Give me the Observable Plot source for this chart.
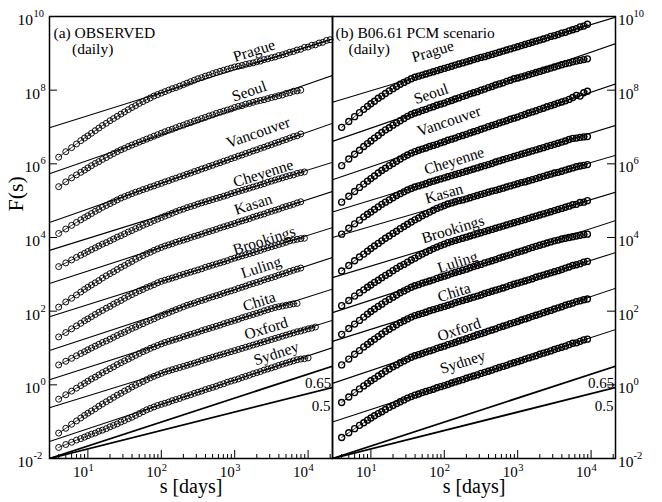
<!DOCTYPE html>
<html><head><meta charset="utf-8">
<script src="https://cdn.jsdelivr.net/npm/d3@7"></script>
<script src="https://cdn.jsdelivr.net/npm/@observablehq/plot@0.6"></script>
<style>
body{margin:0;background:#fff;}
#chart{position:relative;width:662px;height:502px;background:#fff;font-family:'Liberation Serif',serif;}
#chart svg{position:absolute;left:0;top:0;}
#chart svg text{font-family:'Liberation Serif',serif;}
</style></head><body><div id="chart"></div>
<script>
// ---- data (F values stored as log10 F) ----
const sGrid = [4,5,6,7,8,9,10,11.2,12.6,14.1,15.8,17.8,20,22.4,25.1,28.2,31.6,35.5,39.8,44.7,50.1,56.2,63.1,70.8,79.4,89.1,100,112,126,141,158,178,200,224,251,282,316,355,398,447,501,562,631,708,794,891,1000,1122,1259,1413,1585,1778,1995,2239,2512,2818,3162,3548,3981,4467,5012,5623,6310,7079,7943,8913,10000,11220,12589,14125,15849,17783,19953];
const stations = ["Prague","Seoul","Vancouver","Cheyenne","Kasan","Brookings","Luling","Chita","Oxford","Sydney"];

const obs_Prague = [6.18,6.33,6.44,6.54,6.63,6.70,6.76,6.83,6.90,6.97,7.04,7.10,7.17,7.23,7.29,7.35,7.41,7.47,7.53,7.58,7.64,7.69,7.74,7.79,7.84,7.88,7.92,7.96,8.00,8.04,8.07,8.11,8.15,8.19,8.23,8.27,8.31,8.34,8.38,8.41,8.45,8.48,8.51,8.54,8.57,8.60,8.63,8.65,8.67,8.70,8.72,8.74,8.77,8.79,8.83,8.85,8.88,8.90,8.94,8.96,8.99,9.03,9.05,9.09,9.11,9.16,9.17,9.22,9.23,9.28,9.30,9.35,9.37];
const obs_Seoul = [5.38,5.51,5.62,5.70,5.77,5.83,5.89,5.95,6.01,6.06,6.12,6.17,6.23,6.28,6.33,6.38,6.42,6.47,6.51,6.55,6.59,6.63,6.67,6.71,6.75,6.79,6.83,6.87,6.91,6.94,6.98,7.02,7.05,7.09,7.12,7.16,7.19,7.23,7.26,7.30,7.33,7.37,7.40,7.43,7.46,7.49,7.53,7.56,7.58,7.62,7.64,7.67,7.70,7.72,7.74,7.77,7.80,7.82,7.85,7.87,7.91,7.93,7.97,7.98,8.00];
const obs_Vancouver = [4.11,4.23,4.33,4.41,4.48,4.54,4.59,4.65,4.71,4.76,4.82,4.87,4.92,4.97,5.02,5.07,5.11,5.15,5.19,5.23,5.26,5.30,5.33,5.37,5.40,5.44,5.47,5.51,5.54,5.58,5.61,5.65,5.68,5.72,5.75,5.79,5.82,5.86,5.89,5.93,5.96,6.00,6.03,6.07,6.10,6.14,6.17,6.21,6.24,6.28,6.31,6.35,6.38,6.42,6.45,6.49,6.52,6.56,6.59,6.63,6.66,6.70,6.74,6.76,6.81];
const obs_Cheyenne = [3.21,3.31,3.39,3.46,3.52,3.57,3.62,3.67,3.72,3.77,3.82,3.86,3.91,3.96,4.01,4.05,4.10,4.15,4.19,4.24,4.28,4.33,4.37,4.41,4.46,4.50,4.54,4.58,4.62,4.66,4.70,4.74,4.77,4.81,4.84,4.87,4.91,4.94,4.97,5.00,5.03,5.06,5.09,5.12,5.15,5.19,5.22,5.25,5.28,5.31,5.34,5.37,5.40,5.43,5.46,5.50,5.53,5.56,5.59,5.62,5.65,5.68,5.70,5.74,5.76,5.78];
const obs_Kasan = [2.11,2.25,2.35,2.44,2.52,2.59,2.65,2.71,2.77,2.83,2.90,2.96,3.02,3.07,3.13,3.19,3.24,3.30,3.35,3.41,3.46,3.51,3.56,3.60,3.65,3.69,3.73,3.77,3.80,3.83,3.87,3.90,3.93,3.96,4.00,4.03,4.06,4.09,4.13,4.16,4.19,4.22,4.26,4.29,4.32,4.35,4.38,4.42,4.45,4.48,4.51,4.55,4.58,4.61,4.64,4.68,4.71,4.74,4.77,4.81,4.84,4.87,4.90,4.94,4.97];
const obs_Brookings = [1.30,1.42,1.52,1.60,1.67,1.74,1.79,1.85,1.91,1.97,2.02,2.08,2.13,2.19,2.24,2.29,2.35,2.40,2.45,2.50,2.55,2.59,2.64,2.68,2.72,2.77,2.81,2.84,2.87,2.90,2.93,2.97,3.00,3.03,3.06,3.09,3.12,3.15,3.19,3.22,3.25,3.28,3.31,3.34,3.37,3.41,3.44,3.47,3.50,3.53,3.56,3.59,3.62,3.65,3.69,3.72,3.75,3.78,3.81,3.84,3.87,3.91,3.93,3.95,3.97,3.98];
const obs_Luling = [0.54,0.64,0.72,0.79,0.85,0.90,0.95,1.00,1.05,1.10,1.15,1.19,1.24,1.29,1.34,1.39,1.43,1.48,1.53,1.57,1.62,1.66,1.71,1.75,1.79,1.84,1.88,1.92,1.96,2.00,2.04,2.08,2.12,2.16,2.19,2.22,2.26,2.29,2.32,2.36,2.39,2.42,2.45,2.49,2.52,2.55,2.58,2.62,2.65,2.68,2.72,2.75,2.78,2.81,2.85,2.88,2.91,2.94,2.98,3.01,3.04,3.08,3.11,3.14,3.17];
const obs_Chita = [-0.39,-0.27,-0.17,-0.09,-0.02,0.04,0.10,0.16,0.21,0.27,0.33,0.38,0.44,0.49,0.55,0.60,0.65,0.70,0.75,0.80,0.85,0.90,0.94,0.99,1.03,1.07,1.11,1.15,1.18,1.21,1.24,1.27,1.31,1.34,1.37,1.40,1.43,1.47,1.50,1.53,1.56,1.59,1.62,1.66,1.69,1.72,1.75,1.78,1.82,1.85,1.88,1.91,1.94,1.97,2.01,2.04,2.07,2.10,2.12,2.14,2.16,2.18,2.20,2.21];
const obs_Oxford = [-1.31,-1.18,-1.07,-0.98,-0.90,-0.83,-0.77,-0.71,-0.65,-0.58,-0.52,-0.46,-0.40,-0.34,-0.28,-0.23,-0.17,-0.12,-0.06,-0.01,0.04,0.09,0.14,0.19,0.23,0.27,0.31,0.35,0.38,0.41,0.44,0.47,0.50,0.53,0.56,0.59,0.62,0.66,0.69,0.72,0.75,0.78,0.81,0.84,0.87,0.90,0.93,0.96,0.99,1.02,1.05,1.08,1.11,1.14,1.17,1.20,1.23,1.26,1.29,1.32,1.35,1.38,1.41,1.44,1.46,1.49,1.52,1.54,1.57];
const obs_Sydney = [-1.70,-1.62,-1.56,-1.50,-1.46,-1.42,-1.38,-1.34,-1.31,-1.26,-1.23,-1.19,-1.14,-1.10,-1.06,-1.01,-0.97,-0.92,-0.88,-0.83,-0.78,-0.73,-0.68,-0.64,-0.60,-0.56,-0.53,-0.50,-0.47,-0.43,-0.40,-0.37,-0.33,-0.30,-0.27,-0.23,-0.20,-0.17,-0.13,-0.10,-0.07,-0.04,0.00,0.03,0.07,0.10,0.13,0.16,0.20,0.23,0.26,0.30,0.33,0.36,0.40,0.43,0.46,0.49,0.53,0.56,0.59,0.62,0.65,0.68,0.70,0.71,0.73];

const pcm_Prague = [6.99,7.15,7.28,7.39,7.48,7.56,7.63,7.70,7.78,7.84,7.91,7.98,8.04,8.10,8.16,8.21,8.26,8.31,8.35,8.38,8.41,8.44,8.47,8.50,8.53,8.56,8.59,8.62,8.65,8.68,8.71,8.74,8.77,8.80,8.83,8.86,8.89,8.91,8.94,8.97,9.00,9.03,9.06,9.09,9.12,9.15,9.18,9.21,9.24,9.27,9.30,9.33,9.36,9.39,9.42,9.46,9.48,9.51,9.55,9.57,9.61,9.64,9.67,9.72,9.74,9.79];
const pcm_Seoul = [5.95,6.13,6.26,6.37,6.47,6.55,6.62,6.70,6.77,6.85,6.92,6.98,7.05,7.11,7.17,7.23,7.29,7.34,7.38,7.41,7.45,7.48,7.52,7.55,7.59,7.62,7.65,7.69,7.72,7.76,7.79,7.83,7.86,7.90,7.93,7.96,8.00,8.03,8.07,8.10,8.14,8.17,8.20,8.24,8.27,8.31,8.33,8.36,8.39,8.42,8.45,8.48,8.51,8.54,8.57,8.60,8.63,8.66,8.69,8.72,8.74,8.77,8.79,8.81,8.83,8.85];
const pcm_Vancouver = [4.96,5.12,5.25,5.36,5.45,5.53,5.60,5.67,5.75,5.82,5.88,5.95,6.01,6.07,6.13,6.19,6.24,6.29,6.33,6.37,6.40,6.43,6.47,6.50,6.53,6.57,6.60,6.64,6.67,6.70,6.74,6.77,6.80,6.84,6.87,6.90,6.94,6.97,7.01,7.04,7.07,7.11,7.14,7.17,7.21,7.24,7.27,7.31,7.34,7.38,7.41,7.44,7.48,7.51,7.55,7.58,7.61,7.65,7.68,7.71,7.75,7.80,7.86,7.84,7.93,7.97];
const pcm_Cheyenne = [4.09,4.25,4.37,4.47,4.56,4.63,4.69,4.76,4.83,4.90,4.96,5.02,5.08,5.14,5.19,5.24,5.29,5.33,5.37,5.40,5.43,5.46,5.50,5.53,5.56,5.59,5.62,5.65,5.68,5.71,5.74,5.77,5.80,5.83,5.86,5.89,5.92,5.95,5.98,6.01,6.05,6.08,6.11,6.14,6.17,6.20,6.23,6.26,6.29,6.32,6.35,6.38,6.41,6.44,6.47,6.50,6.53,6.56,6.59,6.62,6.66,6.69,6.70,6.72,6.73,6.74];
const pcm_Kasan = [3.09,3.24,3.37,3.47,3.55,3.63,3.70,3.77,3.84,3.91,3.98,4.04,4.11,4.17,4.24,4.30,4.36,4.42,4.48,4.53,4.59,4.64,4.69,4.74,4.79,4.83,4.87,4.91,4.94,4.97,5.00,5.02,5.05,5.08,5.11,5.14,5.17,5.20,5.23,5.26,5.28,5.31,5.34,5.37,5.40,5.43,5.46,5.49,5.51,5.54,5.57,5.60,5.63,5.66,5.69,5.72,5.75,5.77,5.80,5.83,5.86,5.89,5.92,5.94,5.96,5.98];
const pcm_Brookings = [2.15,2.29,2.41,2.50,2.58,2.65,2.71,2.78,2.84,2.91,2.97,3.03,3.10,3.16,3.22,3.27,3.33,3.39,3.44,3.50,3.55,3.60,3.65,3.70,3.74,3.78,3.82,3.86,3.89,3.92,3.95,3.98,4.01,4.04,4.07,4.10,4.13,4.16,4.19,4.22,4.25,4.28,4.31,4.34,4.37,4.40,4.43,4.46,4.49,4.52,4.55,4.58,4.61,4.64,4.67,4.70,4.73,4.76,4.79,4.82,4.85,4.89,4.90,4.95,4.96,5.00];
const pcm_Luling = [1.37,1.53,1.65,1.75,1.84,1.92,1.99,2.06,2.13,2.19,2.26,2.32,2.38,2.44,2.50,2.55,2.60,2.65,2.69,2.72,2.76,2.79,2.82,2.85,2.89,2.92,2.95,2.98,3.02,3.05,3.08,3.11,3.14,3.18,3.21,3.24,3.27,3.31,3.34,3.37,3.40,3.44,3.47,3.50,3.53,3.57,3.60,3.63,3.66,3.70,3.73,3.76,3.79,3.82,3.85,3.88,3.91,3.93,3.96,3.98,4.00,4.02,4.04,4.06,4.08,4.09];
const pcm_Chita = [0.54,0.70,0.83,0.93,1.03,1.10,1.17,1.24,1.31,1.38,1.45,1.51,1.57,1.63,1.69,1.74,1.79,1.84,1.88,1.91,1.94,1.97,2.01,2.04,2.07,2.10,2.13,2.16,2.19,2.23,2.26,2.29,2.32,2.35,2.38,2.41,2.44,2.48,2.51,2.54,2.57,2.60,2.63,2.66,2.70,2.73,2.76,2.79,2.82,2.85,2.88,2.92,2.95,2.98,3.01,3.04,3.07,3.10,3.13,3.17,3.20,3.24,3.26,3.29,3.33,3.35];
const pcm_Oxford = [-0.48,-0.33,-0.21,-0.11,-0.03,0.04,0.11,0.17,0.24,0.30,0.37,0.43,0.49,0.54,0.60,0.65,0.70,0.75,0.79,0.82,0.85,0.89,0.92,0.95,0.99,1.02,1.05,1.09,1.12,1.15,1.19,1.22,1.25,1.29,1.32,1.36,1.39,1.42,1.46,1.49,1.52,1.56,1.59,1.62,1.66,1.69,1.72,1.76,1.79,1.82,1.86,1.89,1.92,1.96,1.99,2.02,2.06,2.09,2.12,2.16,2.19,2.22,2.26,2.28,2.31,2.33];
const pcm_Sydney = [-1.43,-1.30,-1.19,-1.10,-1.03,-0.96,-0.90,-0.84,-0.78,-0.73,-0.67,-0.61,-0.56,-0.51,-0.46,-0.41,-0.36,-0.32,-0.28,-0.25,-0.21,-0.18,-0.15,-0.12,-0.08,-0.05,-0.02,0.01,0.05,0.08,0.11,0.14,0.18,0.21,0.24,0.27,0.31,0.34,0.37,0.40,0.44,0.47,0.50,0.53,0.57,0.60,0.63,0.66,0.70,0.73,0.76,0.79,0.83,0.86,0.89,0.92,0.96,0.99,1.02,1.05,1.09,1.13,1.14,1.18,1.22,1.24];

// fitted straight lines: log10 F at the left (s=3) and right (s=21500) panel edges
const obsFitLo = [6.98,5.73,4.41,3.65,2.75,1.85,0.93,0.14,-0.62,-1.54];
const obsFitHi = [9.39,8.40,7.10,6.04,5.25,4.27,3.46,2.60,1.75,1.01];
const pcmFitLo = [7.67,6.61,5.57,4.69,4.00,2.91,1.96,1.18,0.04,-1.01];
const pcmFitHi = [9.98,9.26,8.17,7.04,6.23,5.23,4.46,3.59,2.62,1.50];

// station name anchors (s, log10 F)
const obsLabelS = [1841,1574,2090,2443,1782,2518,2291,2153,2685,3673];
const obsLabelLogF = [9.07,7.97,6.85,5.74,4.90,3.92,3.19,2.26,1.53,0.85];
const pcmLabelS = [69.5,66,116,136,99,131,152,136,159,178];
const pcmLabelLogF = [9.05,7.90,7.16,6.08,5.19,4.22,3.33,2.51,1.50,0.62];

// reference slopes
const hurst = [0.65, 0.5];
const hurstText = ["0.65", "0.5"];
const hurstLabelS = [13740, 15100];

const sRange = [3, 21500];
const FRange = [1e-2, 1e10];
const xMajor = [10, 100, 1000, 10000];
const yMajorExp = [-2, 0, 2, 4, 6, 8, 10];

const obsSeries = [obs_Prague,obs_Seoul,obs_Vancouver,obs_Cheyenne,obs_Kasan,obs_Brookings,obs_Luling,obs_Chita,obs_Oxford,obs_Sydney];
const pcmSeries = [pcm_Prague,pcm_Seoul,pcm_Vancouver,pcm_Cheyenne,pcm_Kasan,pcm_Brookings,pcm_Luling,pcm_Chita,pcm_Oxford,pcm_Sydney];

const FONT = "Liberation Serif";
const minorTicks = [];
for (const dec of [1, 10, 100, 1000, 10000]) for (let m = 2; m <= 9; m++) {
  const v = m * dec; if (v >= sRange[0] && v <= sRange[1]) minorTicks.push(v);
}

function panel({series, fitLo, fitHi, labelS, labelLogF, title, side}) {
  const W = 662, H = 502, mt = 16, mb = 44;
  const ml = side === "left" ? 49 : 332, mr = side === "left" ? 330 : 47;
  const pw = W - ml - mr, ph = H - mt - mb;
  const decX = Math.log10(sRange[1] / sRange[0]);
  const aspect = (ph / Math.log10(FRange[1] / FRange[0])) / (pw / decX);
  const points = [];
  series.forEach((vals, i) => vals.forEach((v, j) => points.push({st: stations[i], s: sGrid[j], F: Math.pow(10, v)})));
  const fits = stations.flatMap((st, i) => [{st, s: sRange[0], F: 10 ** fitLo[i]}, {st, s: sRange[1], F: 10 ** fitHi[i]}]);
  const refs = hurst.flatMap(h => [{h, s: sRange[0], F: FRange[0]}, {h, s: sRange[1], F: FRange[0] * (sRange[1] / sRange[0]) ** h}]);
  const labels = stations.map((st, i) => ({st, s: labelS[i], F: 10 ** labelLogF[i],
    rot: -Math.atan((fitHi[i] - fitLo[i]) / decX * aspect) * 180 / Math.PI}));
  const refLab = hurst.map((h, i) => ({t: hurstText[i], s: hurstLabelS[i], F: FRange[0] * (hurstLabelS[i] / sRange[0]) ** h}));
  const one = yMajorExp.filter(e => String(e).length === 1);
  const two = yMajorExp.filter(e => String(e).length === 2);
  const T = {fill: "black", fontFamily: FONT};
  const dotStroke = side === "left" ? 0.95 : 1.35;
  const marks = [
    Plot.line(fits, {x: "s", y: "F", z: "st", stroke: "black", strokeWidth: 1.1, clip: true}),
    Plot.line(refs, {x: "s", y: "F", z: "h", stroke: "black", strokeWidth: 1.8, clip: true}),
    Plot.line(points, {x: "s", y: "F", z: "st", stroke: "black", strokeWidth: 0.8}),
    Plot.dot(points, {x: "s", y: "F", r: 3, stroke: "black", strokeWidth: dotStroke, fill: "none"}),
    Plot.tickX(xMajor, {x: d => d, insetTop: ph - 8, stroke: "black", strokeWidth: 1}),
    Plot.tickX(minorTicks, {x: d => d, insetTop: ph - 4, stroke: "black", strokeWidth: 1}),
    side === "left"
      ? Plot.tickY(yMajorExp, {y: e => 10 ** e, insetRight: pw - 8, stroke: "black", strokeWidth: 1})
      : Plot.tickY(yMajorExp, {y: e => 10 ** e, insetLeft: pw - 8, stroke: "black", strokeWidth: 1}),
    Plot.frame({stroke: "black", strokeWidth: 1.5}),
    // x tick labels
    Plot.text(xMajor, {x: d => d, frameAnchor: "bottom", text: () => "10", textAnchor: "end", dy: 18, fontSize: 15, ...T}),
    Plot.text(xMajor, {x: d => d, frameAnchor: "bottom", text: d => String(Math.round(Math.log10(d))), textAnchor: "start", dx: 0.5, dy: 12, fontSize: 10.5, ...T}),
    Plot.text(["s [days]"], {frameAnchor: "bottom", text: d => d, dy: 34, fontSize: 20, ...T}),
    // station labels
    Plot.text(labels, {x: "s", y: "F", text: "st", rotate: "rot", fontSize: 15.5, ...T}),
    Plot.text([refLab[0]], {x: "s", y: "F", text: "t", dy: 12, fontSize: 15, ...T}),
    Plot.text([refLab[1]], {x: "s", y: "F", text: "t", dy: 15.5, fontSize: 15, ...T}),
    // panel title
    Plot.text([title], {frameAnchor: "top-left", text: d => d, textAnchor: "start", dx: side === "left" ? 4 : 3, dy: 10, fontSize: 15.5, ...T}),
    Plot.text(["(daily)"], {frameAnchor: "top-left", text: d => d, textAnchor: "start", dx: side === "left" ? 22.5 : 16, dy: 26.5, fontSize: 15.5, ...T})
  ];
  if (side === "left") {
    marks.push(
      Plot.text(one, {y: e => 10 ** e, frameAnchor: "left", text: () => "10", textAnchor: "end", dx: -9.5, dy: 3.5, fontSize: 15.5, ...T}),
      Plot.text(one, {y: e => 10 ** e, frameAnchor: "left", text: e => String(e), textAnchor: "start", dx: -9, dy: -3, fontSize: 10.5, ...T}),
      Plot.text(two, {y: e => 10 ** e, frameAnchor: "left", text: () => "10", textAnchor: "end", dx: -16.5, dy: 3.5, fontSize: 15.5, ...T}),
      Plot.text(two, {y: e => 10 ** e, frameAnchor: "left", text: e => String(e), textAnchor: "start", dx: -16, dy: -3, fontSize: 10.5, ...T}),
      Plot.text(["F(s)"], {frameAnchor: "left", text: d => d, rotate: -90, dx: -34, dy: -26, fontSize: 22, ...T})
    );
  } else {
    marks.push(
      Plot.text(yMajorExp, {y: e => 10 ** e, frameAnchor: "right", text: () => "10", textAnchor: "start", dx: 2.5, dy: 3.5, fontSize: 15.5, ...T}),
      Plot.text(yMajorExp, {y: e => 10 ** e, frameAnchor: "right", text: e => String(e), textAnchor: "start", dx: 18, dy: -3, fontSize: 10.5, ...T})
    );
  }
  return Plot.plot({
    width: W, height: H, marginTop: mt, marginBottom: mb, marginLeft: ml, marginRight: mr,
    x: {type: "log", domain: sRange, axis: null},
    y: {type: "log", domain: FRange, axis: null},
    style: {fontFamily: "'Liberation Serif', serif", background: "transparent", overflow: "visible", color: "black"},
    marks
  });
}

const root = document.getElementById("chart");
root.appendChild(panel({series: obsSeries, fitLo: obsFitLo, fitHi: obsFitHi, labelS: obsLabelS, labelLogF: obsLabelLogF, title: "(a) OBSERVED", side: "left"}));
root.appendChild(panel({series: pcmSeries, fitLo: pcmFitLo, fitHi: pcmFitHi, labelS: pcmLabelS, labelLogF: pcmLabelLogF, title: "(b) B06.61 PCM scenario", side: "right"}));
</script>
</body></html>
